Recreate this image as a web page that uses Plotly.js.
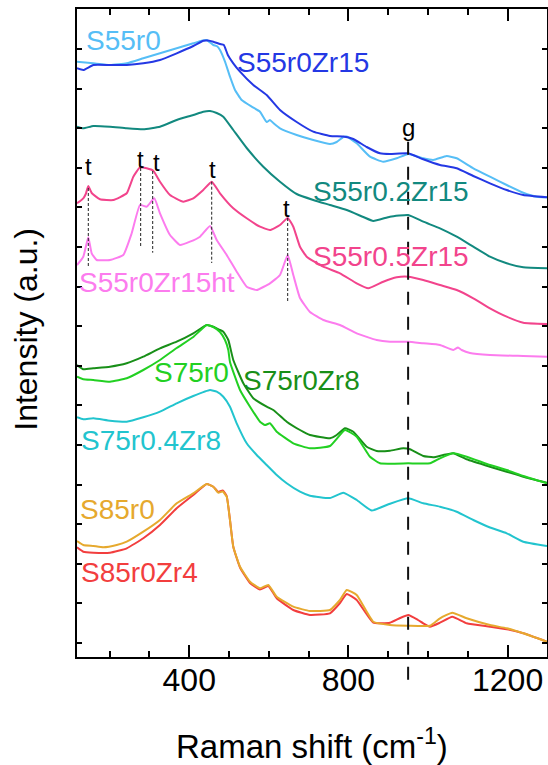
<!DOCTYPE html>
<html>
<head>
<meta charset="utf-8">
<script src="https://cdn.plot.ly/plotly-3.0.1.min.js"></script>
<style>html,body{margin:0;padding:0;background:#fff;}#chart{width:548px;height:765px;}</style>
</head>
<body>
<div id="chart"></div>
<script>
// ---------------- data (Raman shift in cm-1, intensity in arbitrary offset units) ----------------
const s55r0_x = [118,159,200.9,242.9,284.6,326.5,368.5,410.2,431.3,443.9,460.5,469,477.3,489.9,502.4,515,531.8,557,577.8,594.6,602.9,611.2,628.1,670,711.7,753.7,770.5,787.1,795.7,820.8,854.2,887.6,921.3,950.4,988.1,1013.3,1046.9,1072.1,1113.8,1155.7,1197.7,1239.4,1273.1,1299];
const s55r0_y = [581.3,579.7,578,579.7,584.7,589.7,594.7,599.7,602.3,603,598,597,593,581.3,566.3,553,543,536.3,531.3,521,523,520,514.7,508,503,499,501,506,506.5,499.7,486.3,481.3,484.7,489,484.7,483,487,484.7,474.7,466.3,458,450.3,446.3,445.7];

const s55r0Zr15_x = [118,133.8,159,200.9,242.9,284.6,326.5,368.5,410.2,435.3,447,460.5,477.3,487,497,510.7,527.6,561,594.6,628.1,670,711.7,753.7,787.1,812.3,845.9,879.3,904.4,950.4,988.1,1030.1,1072.1,1113.8,1155.7,1197.7,1239.4,1299];
const s55r0Zr15_y = [574.7,573,578,578,578,579.7,583,589.7,597,602.3,602.5,601.3,599,598,588,579.7,571.3,558,548,533,521,511.3,507,506.5,504,496,489.7,489,489.7,483.7,478,474.7,467,459.7,453,448,445.7];

const s55r02Zr15_x = [118,133.8,159,200.9,242.9,284.6,326.5,368.5,410.2,435.3,452.2,469,485.6,510.7,544.4,586.1,628.1,670,711.7,753.7,795.7,837.4,862.5,904.4,950.4,988.1,1030.1,1072.1,1113.8,1155.7,1197.7,1239.4,1299];
const s55r02Zr15_y = [516.3,514.7,517,516.3,514.7,513.7,516.3,523,528,531.3,532,530,526.3,513,495,476.3,461.3,449,443,438,433,426,422,426.3,428,421.3,414.7,406.3,396.3,386.3,379.7,375.7,374.7];

const s55r05Zr15_x = [118,133.8,140,146.4,154.9,175.8,209.2,242.9,259.5,276.3,293.1,309.7,326.5,351.7,385.1,410.2,435.3,456.5,477.3,510.7,544.4,577.8,602.9,628.1,647.4,661.5,678.3,695.2,736.9,778.8,820.8,849.9,887.6,921.3,950.4,988.1,1030.1,1072.1,1113.8,1155.7,1197.7,1239.4,1299];
const s55r05Zr15_y = [439.7,444.7,449,457,450,443.7,443,449.7,466.3,475.7,474.7,472.3,461.3,448,441.3,444.7,453,461.3,449.7,434.7,424.7,416.3,413,418,425,416.3,396.3,386.3,376.3,369.7,359.7,354.7,361.3,365.7,366.3,363,358,353,344.7,334.7,326.3,320.3,319];

const s55r0Zr15ht_x = [118,133.8,146.4,154.9,167.5,200.9,234.3,255.4,276.3,293.1,312.2,326.5,351.7,376.8,401.9,427.1,452.2,469,494.1,519.3,544.4,569.5,602.9,628.1,647.4,661.5,678.3,703.4,736.9,778.8,820.8,871,904.4,950.4,988.1,1030.1,1063.5,1075.3,1084.6,1105.5,1155.7,1239.4,1299];
const s55r0Zr15ht_y = [378,386.3,405.7,389.7,383,383,388,409.7,438,436.3,444.7,429.7,408,398,401.3,406.3,417,403,388,371.3,356.3,353,359.7,368,388,368,345,331,323,318,309.7,303,301.3,301.3,299.7,298,293,295.5,293,290,288,287,286.3];

const s75r0Zr8_x = [118,133.8,159,200.9,242.9,284.6,326.5,368.5,410.2,443.9,460.5,477.3,485.6,498.2,510.7,535.9,561,594.6,611.2,644.9,678.3,703.4,753.7,770.5,791.4,812.3,845.9,871,904.4,937.9,954.7,988.1,1013.3,1038.4,1063.5,1097.2,1155.7,1197.7,1239.4,1299];
const s75r0Zr8_y = [278,273.7,274.7,276.3,279.7,286.3,294.7,301.3,309.7,318,316.3,313,311.3,303,283,259.7,244.7,236.3,233,221.3,213,208,204.7,208,214.7,211.3,196.3,192,192.3,194.7,193.7,187,185.7,188,189.7,183.7,176.3,171.3,166.3,160.3];

const s75r0_x = [118,133.8,159,200.9,242.9,284.6,326.5,368.5,410.2,443.9,460.5,477.3,489.9,498.2,502.4,527.6,552.7,577.8,590.4,602.9,619.8,661.5,703.4,753.7,791.4,820.8,854.2,879.3,950.4,1005,1030.1,1063.5,1097.2,1155.7,1197.7,1239.4,1299];
const s75r0_y = [266.3,263.7,263,261.3,264.7,273,283,295,306,318,316,311,303,293,281,253,236.3,221.3,218,219.7,211.3,199.7,194.7,197,213,206.3,186.3,179.7,179.7,179.7,184.7,189.7,186.3,178,173,167,159.7];

const s75r04Zr8_x = [118,133.8,159,200.9,242.9,284.6,326.5,368.5,410.2,452.2,469,485.6,502.4,519.3,544.4,569.5,594.6,619.8,644.9,678.3,703.4,753.7,787.1,820.8,858.5,904.4,950.4,988.1,1030.1,1072.1,1113.8,1155.7,1197.7,1239.4,1299];
const s75r04Zr8_y = [225.7,223.7,224.7,222.3,221.3,225.7,231.3,239.7,247,253,251.3,246.3,236.3,219.7,199.7,188,178,168,159.7,151.3,147.3,145,150.3,143,132.5,139.3,144.7,139.7,136.3,131.3,123,115.5,109.7,101.3,97];

const s85r0Zr4_x = [118,133.8,159,200.9,242.9,284.6,326.5,368.5,410.2,443.9,460.5,473,484.1,494.1,502.4,510.7,527.6,552.7,577.8,598.7,619.8,661.5,703.4,753.7,778.8,795.7,820.8,862.5,904.4,929.8,950.4,974.8,988.1,1005,1030.1,1061,1097.2,1155.7,1197.7,1239.4,1299];
const s85r0Zr4_y = [95.7,91.3,90.3,90.3,94.7,104.7,118,134.7,148,159,156.3,151,152.5,147,123,96.3,75.5,60,53.5,57,44.7,33,28,29.7,40,49,43,20.3,20.3,25,28,23,19.7,16.3,20.3,26.3,19.7,16.3,13.7,9.7,1.3];

const s85r0_x = [118,133.8,159,184.1,217.8,242.9,284.6,326.5,368.5,410.2,443.9,460.5,473,484.1,494.1,502.4,510.7,527.6,552.7,577.8,598.7,619.8,661.5,703.4,753.7,778.8,795.7,820.8,862.5,904.4,950.4,1005,1030.1,1061,1097.2,1155.7,1197.7,1239.4,1299];
const s85r0_y = [102,98,97,95.7,98,101.3,111.3,123,139.7,149.7,159,156.3,150.3,151.5,146.3,123,96.3,76.3,61.3,54.7,58,46.3,36.3,32,33,43,53,48,21.3,18,17.3,17.3,24.7,30.3,24.7,18,14.7,9.7,1.3];

// series names, colours, label positions (data coordinates, left edge / middle)
const names   = ['S55r0','S55r0Zr15','S55r0.2Zr15','S55r0.5Zr15','S55r0Zr15ht','S75r0Zr8','S75r0','S75r0.4Zr8','S85r0Zr4','S85r0'];
const colors  = ['#56BEF6','#2438E4','#12897F','#F2448C','#FC7CEE','#188F18','#22D022','#22C4CE','#F23E3E','#E6A92E'];
const labelX  = [136.5, 514.3, 707, 707, 118.3, 531.1, 307.5, 123.3, 123.3, 120.8];
const labelY  = [603, 581, 452, 387, 361, 263, 271, 203, 71, 134];

// tetragonal-zirconia markers ("t") and the "g" line
const tX      = [146.4, 278, 308.2, 456.5, 647.4];
const tTop    = [455, 475, 472, 461.3, 425];
const tBottom = [375, 395, 390.3, 380, 341.3];
const tLabelX = [146.4, 278, 318, 459, 645];
const tLabelY = [477, 484, 481, 474, 435];
const gX = 950, gLabelY = 516;

const xRange = [118, 1299];
const yRange = [-14, 634];
const xTickVals = [400, 800, 1200];

// ---------------- figure ----------------
const xs = [s55r0_x, s55r0Zr15_x, s55r02Zr15_x, s55r05Zr15_x, s55r0Zr15ht_x, s75r0Zr8_x, s75r0_x, s75r04Zr8_x, s85r0Zr4_x, s85r0_x];
const ys = [s55r0_y, s55r0Zr15_y, s55r02Zr15_y, s55r05Zr15_y, s55r0Zr15ht_y, s75r0Zr8_y, s75r0_y, s75r04Zr8_y, s85r0Zr4_y, s85r0_y];

const FONT = 'Liberation Sans, Arial, Helvetica, sans-serif';

const traces = names.map((n, i) => ({
  type: 'scatter', mode: 'lines', name: n,
  x: xs[i], y: ys[i],
  line: {color: colors[i], width: 2, shape: 'spline', smoothing: 0.4},
  hoverinfo: 'skip'
}));

const annotations = [];
names.forEach((n, i) => annotations.push({
  x: labelX[i], y: labelY[i], xref: 'x', yref: 'y', text: n, showarrow: false,
  xanchor: 'left', yanchor: 'middle', font: {family: FONT, size: 28, color: colors[i]}
}));
tLabelX.forEach((x, i) => annotations.push({
  x: x, y: tLabelY[i], xref: 'x', yref: 'y', text: 't', showarrow: false,
  xanchor: 'center', yanchor: 'middle', font: {family: FONT, size: 24, color: '#000'}
}));
annotations.push({x: gX, y: gLabelY, xref: 'x', yref: 'y', text: 'g', showarrow: false,
  xanchor: 'center', yanchor: 'middle', font: {family: FONT, size: 24, color: '#000'}});
annotations.push({x: -0.1085, y: 0.505, xref: 'paper', yref: 'paper', text: 'Intensity (a.u.)',
  textangle: -90, showarrow: false, xanchor: 'center', yanchor: 'middle',
  font: {family: FONT, size: 32, color: '#000'}});
annotations.push({x: 0.5, y: -0.134, xref: 'paper', yref: 'paper', text: 'Raman shift (cm<sup>-1</sup>)',
  showarrow: false, xanchor: 'center', yanchor: 'middle',
  font: {family: FONT, size: 33, color: '#000'}});

const shapes = [];
tX.forEach((x, i) => shapes.push({
  type: 'line', xref: 'x', yref: 'y', x0: x, x1: x, y0: tTop[i], y1: tBottom[i],
  line: {color: '#222', width: 1, dash: '3px,2px'}
}));
shapes.push({type: 'line', xref: 'x', yref: 'paper', x0: gX, x1: gX, y0: 0.795, y1: -0.051,
  line: {color: '#111', width: 2, dash: '13px,12px'}});

const layout = {
  width: 548, height: 765,
  margin: {l: 77, r: 1, t: 9, b: 108, pad: 0},
  paper_bgcolor: '#fff', plot_bgcolor: '#fff',
  showlegend: false,
  font: {family: FONT, color: '#000'},
  xaxis: {
    range: xRange, showgrid: false, zeroline: false,
    showline: true, linecolor: '#000', linewidth: 2, mirror: 'ticks',
    ticks: 'inside', ticklen: 12, tickwidth: 2, tickcolor: '#000',
    tickmode: 'array', tickvals: xTickVals, ticktext: xTickVals.map(String),
    tickfont: {family: FONT, size: 32, color: '#000'},
    ticklabelstandoff: -6,
    minor: {dtick: 100, tick0: 0, ticks: 'inside', ticklen: 6, tickwidth: 2, tickcolor: '#000', showgrid: false}
  },
  yaxis: {
    range: yRange, showgrid: false, zeroline: false,
    showline: true, linecolor: '#000', linewidth: 2, mirror: 'ticks',
    ticks: 'inside', ticklen: 5, tickwidth: 2, tickcolor: '#000',
    tick0: 0, dtick: 39.6, showticklabels: false
  },
  annotations: annotations,
  shapes: shapes
};

Plotly.newPlot('chart', traces, layout, {displayModeBar: false, staticPlot: true});
</script>
</body>
</html>
